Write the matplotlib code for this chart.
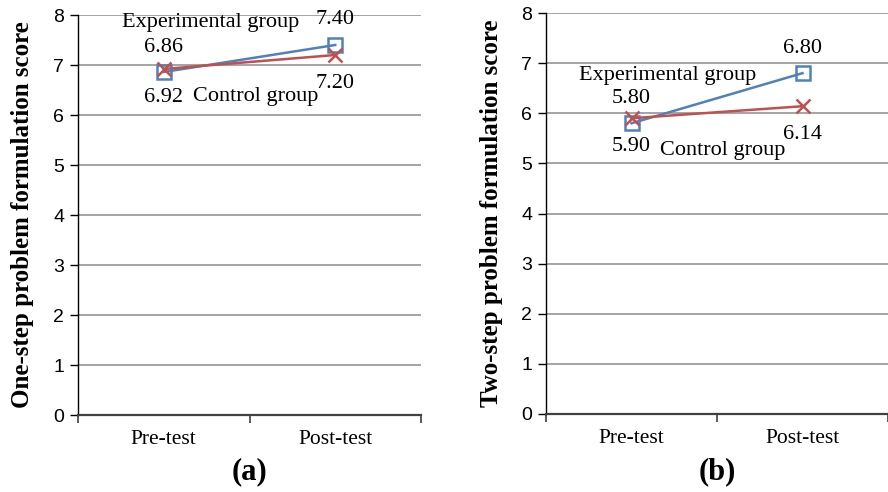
import matplotlib
matplotlib.use('Agg')
import matplotlib.pyplot as plt

categories = ['Pre-test', 'Post-test']
one_step_exp = [6.86, 7.40]
one_step_ctrl = [6.92, 7.20]
two_step_exp = [5.80, 6.80]
two_step_ctrl = [5.90, 6.14]
y_labels = ['One-step problem formulation score', 'Two-step problem formulation score']
panel_tags = ['(a)', '(b)']

BLUE = '#4f81bd'
RED = '#c0504d'
SERIF = 'Liberation Serif'
SANS = 'Liberation Sans'
PT = 0.72  # pixels -> points at 100 dpi
FS = 16

fig = plt.figure(figsize=(8.88, 4.92), dpi=100)
ax_a = fig.add_axes([78 / 888, 1 - 415 / 492, 343 / 888, 400 / 492])
ax_b = fig.add_axes([546 / 888, 1 - 414 / 492, 342 / 888, 401 / 492])

# label offsets in pixels: (exp group name dx, dy), (ctrl group name dx, dy)
name_offsets = [((47, -49), (92, 28)), ((36, -48), (91, 32))]
ylabel_x = [-0.163, -0.158]


def draw_panel(ax, exp, ctrl, ylab, tag, offs, lx):
    x = list(range(len(categories)))
    ax.plot(x, exp, color=BLUE, lw=1.8, marker='s', ms=10.5, mfc='none',
            mec=BLUE, mew=1.8, zorder=3)
    ax.plot(x, ctrl, color=RED, lw=1.8, marker='x', ms=10.5, mec=RED,
            mew=1.8, zorder=4)
    ax.set_xlim(-0.5, 1.5)
    ax.set_ylim(0, 8)
    ax.set_yticks(range(0, 9))
    ax.yaxis.grid(True, color='#8c8c8c', lw=1.1)
    ax.set_axisbelow(True)
    for s in ['top', 'right']:
        ax.spines[s].set_visible(False)
    ax.spines['left'].set_color('black')
    ax.spines['left'].set_linewidth(1.0)
    ax.spines['bottom'].set_color('#404040')
    ax.spines['bottom'].set_linewidth(1.6)
    ax.tick_params(axis='y', length=6, width=1, pad=4, labelsize=14)
    for t in ax.get_yticklabels():
        t.set_fontfamily(SANS)
    ax.set_xticks(x)
    ax.set_xticklabels(categories, fontfamily=SERIF, fontsize=15.5)
    ax.set_xticks([-0.5, 0.5, 1.5], minor=True)
    ax.tick_params(axis='x', which='major', length=0, pad=11)
    ax.tick_params(axis='x', which='minor', length=6, width=1.2, color='#404040')
    ax.set_ylabel(ylab, fontfamily=SERIF, fontweight='bold', fontsize=18, va='center')
    ax.yaxis.set_label_coords(lx, 0.5)

    # value labels: experimental above, control below
    for i in x:
        ax.annotate('%.2f' % exp[i], (i, exp[i]), xytext=(0, 25 * PT),
                    textcoords='offset points', ha='center', va='center',
                    fontfamily=SERIF, fontsize=FS)
        ax.annotate('%.2f' % ctrl[i], (i, ctrl[i]), xytext=(0, -28 * PT),
                    textcoords='offset points', ha='center', va='center',
                    fontfamily=SERIF, fontsize=FS)
    (edx, edy), (cdx, cdy) = offs
    ax.annotate('Experimental group', (0, exp[0]), xytext=(edx * PT, -edy * PT),
                textcoords='offset points', ha='center', va='center',
                fontfamily=SERIF, fontsize=FS)
    ax.annotate('Control group', (0, ctrl[0]), xytext=(cdx * PT, -cdy * PT),
                textcoords='offset points', ha='center', va='center',
                fontfamily=SERIF, fontsize=FS)

    pos = ax.get_position()
    fig.text((pos.x0 + pos.x1) / 2, 1 - 472 / 492, tag, ha='center', va='center',
             fontfamily=SERIF, fontweight='bold', fontsize=22)


draw_panel(ax_a, one_step_exp, one_step_ctrl, y_labels[0], panel_tags[0],
           name_offsets[0], ylabel_x[0])
draw_panel(ax_b, two_step_exp, two_step_ctrl, y_labels[1], panel_tags[1],
           name_offsets[1], ylabel_x[1])

fig.savefig('out.png', dpi=100)
